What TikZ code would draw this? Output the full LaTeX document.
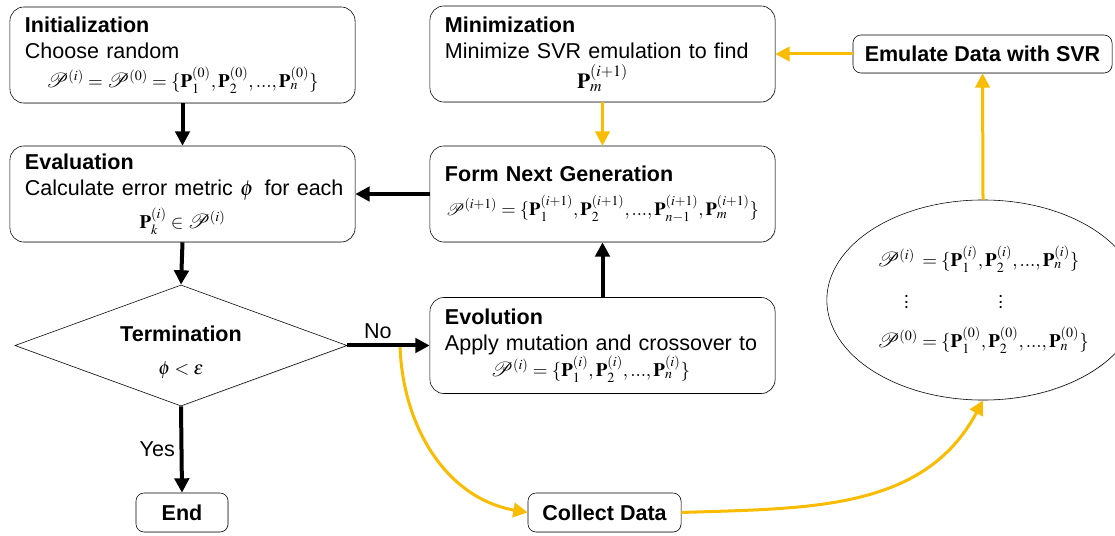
\documentclass[tikz,border=0pt]{standalone}
\usepackage{mathptmx}
\usepackage{mathrsfs}
\usepackage[no-math]{fontspec}
\setmainfont{Liberation Sans}
\usetikzlibrary{arrows.meta,shapes.geometric,shadows}

\definecolor{svrgold}{RGB}{249,188,0}
\newcommand{\txtsz}{\fontsize{15.3}{18.5}\selectfont}
\newcommand{\mathsz}{\fontsize{13.5}{16}\selectfont}
\newcommand{\Pset}[1]{\mathscr{P}^{(#1)}}
\newcommand{\Pv}[2]{\mathbf{P}_{#1}^{(#2)}}
\newcommand{\dd}{{.}{.}{.}}

\tikzset{
	softshadow/.style={drop shadow={opacity=0.25,shadow xshift=0.5pt,shadow yshift=-0.5pt}},
	stage/.style={draw,rounded corners=0.35cm,fill=white,softshadow,
		minimum width=8.625cm,minimum height=2.4cm,inner xsep=0.375cm,
		text width=7.875cm,align=left,font=\txtsz},
	tag/.style={draw,rounded corners=0.2cm,fill=white,softshadow,
		minimum height=0.975cm,font=\txtsz\bfseries},
	flow/.style={line width=0.1cm,-{Triangle[length=0.36cm,width=0.36cm]}},
	svrflow/.style={flow,svrgold,line width=0.075cm},
}

\begin{document}
\begin{tikzpicture}[x=0.025cm,y=-0.025cm]
	\useasboundingbox (0,0) rectangle (1115,536);

	% left column
	\node[stage] (init) at (182.5,55) {\textbf{Initialization}\\ Choose random\\[2pt]
		\centerline{\mathsz$\Pset{i}=\Pset{0}=\{\Pv{1}{0},\Pv{2}{0},\dd,\Pv{n}{0}\}$}};
	\node[stage] (eval) at (182.5,194) {\textbf{Evaluation}\\ \mbox{Calculate error metric $\phi$\, for each}\\[5pt]
		\centerline{\mathsz$\Pv{k}{i}\in\Pset{i}$}};
	\node[diamond,draw,fill=white,softshadow,aspect=2.74,inner sep=0pt,
		minimum width=8.3cm,minimum height=3.025cm,align=center,font=\txtsz] (term) at (181,345.5)
		{\rule{0pt}{0.75cm}\textbf{Termination}\\[5pt] {\mathsz$\phi<\varepsilon$}};
	\node[tag,minimum width=2.3cm] (end) at (182,512.5) {End};

	% middle column
	\node[stage] (minim) at (602.5,54) {\textbf{Minimization}\\ Minimize SVR emulation to find\\[3pt]
		\centerline{$\Pv{m}{i+1}$}};
	\node[stage] (formnext) at (602.5,194) {\textbf{Form Next Generation}\\[6pt]
		\centerline{\fontsize{13.2}{16}\selectfont$\Pset{i+1}=\{\Pv{1}{i+1},\Pv{2}{i+1},\dd,\Pv{n-1}{i+1},\Pv{m}{i+1}\}$}};
	\node[stage] (evol) at (602.5,345.5) {\textbf{Evolution}\\ Apply mutation and crossover to\\
		\centerline{\hspace{-0.6cm}\mathsz$\Pset{i}=\{\Pv{1}{i},\Pv{2}{i},\dd,\Pv{n}{i}\}$}};
	\node[tag,minimum width=3.825cm] (collect) at (604.5,512.5) {Collect Data};

	% right column
	\node[tag,minimum width=6.475cm,minimum height=0.95cm] (emulate) at (982.5,54) {Emulate Data with SVR};
	\node[ellipse,draw,fill=white,softshadow,minimum width=6.5cm,minimum height=5cm] (pool) at (983,300)
		{\mathsz$\begin{array}{@{}l@{\;}l@{}}
			\Pset{i} & =\{\Pv{1}{i},\Pv{2}{i},\dd,\Pv{n}{i}\}\\[10pt]
			\hspace{1.4em}\vdots & \qquad\qquad\vdots\\[8pt]
			\Pset{0} & =\{\Pv{1}{0},\Pv{2}{0},\dd,\Pv{n}{0}\}
		\end{array}$};

	% SVR loop
	\draw[svrflow] (collect.east) to[out=2,in=-118] (pool.south);
	\draw[svrflow] (pool.north) -- (emulate.south);
	\draw[svrflow] (emulate.west) -- (minim.east);
	\draw[svrflow] (minim.south) -- (formnext.north);

	% GA loop
	\draw[flow] (init.south) -- (eval.north);
	\draw[flow] (eval.south) -- (term.north);
	\draw[flow] (term.south) -- node[left,font=\txtsz] (yes) {Yes} (end.north);
	\draw[svrflow,shorten <=0.05cm] (400,345) coordinate (fork) to[out=-88,in=170] (collect.west);
	\draw[flow] (term.east) -- node[above,pos=0.37,font=\txtsz] (no) {No} (evol.west);
	\draw[flow] (evol.north) -- (formnext.south);
	\draw[flow] (formnext.west) -- (eval.east);
\end{tikzpicture}
\end{document}
